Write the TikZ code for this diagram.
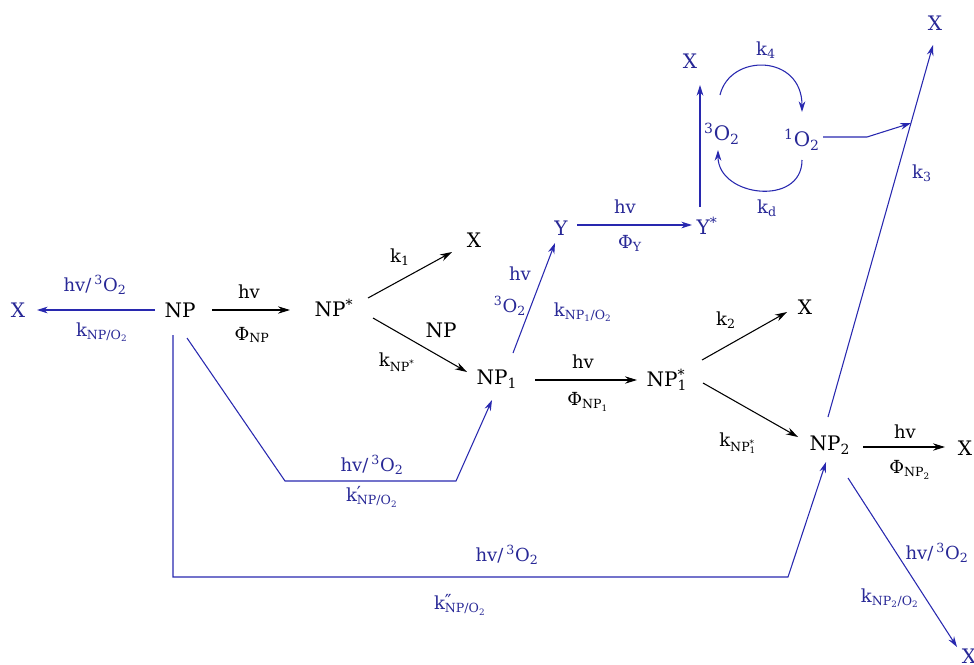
\documentclass[tikz,border=0pt]{standalone}
\usepackage{fontspec}
\setmainfont{DejaVu Serif}
\usetikzlibrary{arrows.meta,calc}
\definecolor{pblue}{RGB}{40,40,175}
\definecolor{tblue}{RGB}{40,40,150}
\newcommand{\oxy}{\textsuperscript{3}O\textsubscript{2}}
\newcommand{\hvo}{hv/\,\oxy}
\begin{document}
\begin{tikzpicture}[x=0.75pt,y=-0.75pt,
 main/.style={inner sep=0,font=\fontsize{15}{18}\selectfont,text height=10.9pt,text depth=0pt},
 lab/.style={inner sep=0,font=\fontsize{13.5}{15}\selectfont},
 bl/.style={text=tblue},
 arr/.style={draw=black,line width=0.8pt,-{Stealth[length=9pt,width=5.5pt]}},
 barr/.style={draw=pblue,line width=0.8pt,-{Stealth[length=8pt,width=5pt]}},
 bline/.style={draw=pblue,line width=0.8pt}]
\useasboundingbox (0,0) rectangle (974,664);
% species
\node[main,bl] (Xl) at (18,310) {X};
\node[main] (NP) at (180,310) {NP};
\node[main] (NPs) at (334,309) {NP\textsuperscript{*}};
\node[main] (X1) at (474,240) {X};
\node[main] (NP1) at (497,377) {NP\textsubscript{1}};
\node[main,bl] (Y) at (561,228) {Y};
\node[main,bl] (Ys) at (707,227) {Y\textsuperscript{*}};
\node[main,bl] (X2) at (690,61) {X};
\node[main,bl] (O3) at (722,133) {\textsuperscript{3}O\textsubscript{2}};
\node[main,bl] (O1) at (802,139) {\textsuperscript{1}O\textsubscript{2}};
\node[main,bl] (X3) at (935,23) {X};
\node[main] (NP1s) at (667,379) {NP\rlap{\textsuperscript{*}}\textsubscript{1}};
\node[main] (X4) at (805,307) {X};
\node[main] (NP2) at (830,443) {NP\textsubscript{2}};
\node[main] (X5) at (965,448) {X};
\node[main,bl] (X6) at (969,656) {X};
% connectors
\draw[barr] ($(NP)+(-25,0)$) -- ($(Xl)+(19,0)$);
\draw[arr] ($(NP)+(32,0)$) -- ($(NPs)+(-44,1)$);
\draw[arr] ($(NPs)+(34,-11)$) -- ($(X1)+(-22,12)$);
\draw[arr] ($(NPs)+(39,9)$) -- ($(NP1)+(-30,-5)$);
\draw[barr] ($(NP1)+(16,-24)$) -- ($(Y)+(-6,15)$);
\draw[barr] ($(Y)+(16,-3)$) -- ($(Ys)+(-15,-2)$);
\draw[barr] ($(Ys)+(-7,-20)$) -- ($(X2)+(10,24)$);
\draw[barr] ($(O3)+(-2,-38)$) .. controls ($(O3)+(8,-80)$) and ($(O1)+(0,-85)$) .. ($(O1)+(0,-27)$);
\draw[barr] ($(O1)+(0,21)$) .. controls ($(O1)+(0,68)$) and ($(O3)+(-4,64)$) .. ($(O3)+(-4,17)$);
\coordinate (A) at ($(NP2)+(-2,-26)$);
\coordinate (B) at ($(X3)+(-2,22)$);
\coordinate (J) at ($(A)!0.79!(B)$);
\draw[barr] (A) -- (B);
\draw[barr] ($(O1)+(21,-2)$) -- ($(O1)+(65,-2)$) -- (J);
\draw[arr] ($(NP1)+(38,3)$) -- ($(NP1s)+(-30,1)$);
\draw[arr] ($(NP1s)+(35,-19)$) -- ($(X4)+(-18,5)$);
\draw[arr] ($(NP1s)+(36,4)$) -- ($(NP2)+(-32,-6)$);
\draw[arr] ($(NP2)+(33,4)$) -- ($(X5)+(-20,-1)$);
\draw[barr] ($(NP2)+(18,35)$) -- ($(X6)+(-12,-9)$);
\draw[barr] ($(NP)+(7,28)$) -- ($(NP)+(105,171)$) -- ($(NP1)+(-41,104)$) -- ($(NP1)+(-5,23)$);
\draw[barr] ($(NP)+(-7,25)$) -- ($(NP)+(-7,267)$) -- ($(NP2)+(-42,134)$) -- ($(NP2)+(-4,19)$);
% labels
\node[lab,bl] (L1a) at (95,285) {\hvo};
\node[lab,bl] (L1b) at (102,332) {k\textsubscript{NP/O\textsubscript{2}}};
\node[lab] (L2a) at (249,292) {hv};
\node[lab] (L2b) at (252,335) {Φ\textsubscript{NP}};
\node[lab] (L3) at (400,257) {k\textsubscript{1}};
\node[main] (L4a) at (441,330) {NP};
\node[lab] (L4b) at (397,362) {k\textsubscript{NP\textsuperscript{*}}};
\node[lab,bl] (L5a) at (520,274) {hv};
\node[lab,bl] (L5b) at (510,306) {\oxy};
\node[lab,bl] (L5c) at (583,312) {k\textsubscript{NP\textsubscript{1}/O\textsubscript{2}}};
\node[lab,bl] (L6a) at (625,207) {hv};
\node[lab,bl] (L6b) at (630,243) {Φ\textsubscript{Y}};
\node[lab,bl] (L8) at (766,50) {k\textsubscript{4}};
\node[lab,bl] (L9) at (767,208) {k\textsubscript{d}};
\node[lab,bl] (L11) at (922,173) {k\textsubscript{3}};
\node[lab] (L12a) at (583,362) {hv};
\node[lab] (L12b) at (588,402) {Φ\textsubscript{NP\textsubscript{1}}};
\node[lab] (L13) at (726,320) {k\textsubscript{2}};
\node[lab] (L14) at (738,443) {k\textsubscript{NP\rlap{\textsuperscript{*}}\textsubscript{1}}};
\node[lab] (L15a) at (905,432) {hv};
\node[lab] (L15b) at (910,470) {Φ\textsubscript{NP\textsubscript{2}}};
\node[lab,bl] (L16a) at (937,553) {\hvo};
\node[lab,bl] (L16b) at (890,598) {k\textsubscript{NP\textsubscript{2}/O\textsubscript{2}}};
\node[lab,bl] (L17a) at (372,465) {\hvo};
\node[lab,bl] (L17b) at (372,497) {k\rlap{\raisebox{0.2ex}{′}}\textsubscript{NP/O\textsubscript{2}}};
\node[lab,bl] (L18a) at (507,555) {\hvo};
\node[lab,bl] (L18b) at (460,605) {k\rlap{\raisebox{0.2ex}{″}}\textsubscript{NP/O\textsubscript{2}}};
\end{tikzpicture}
\end{document}
